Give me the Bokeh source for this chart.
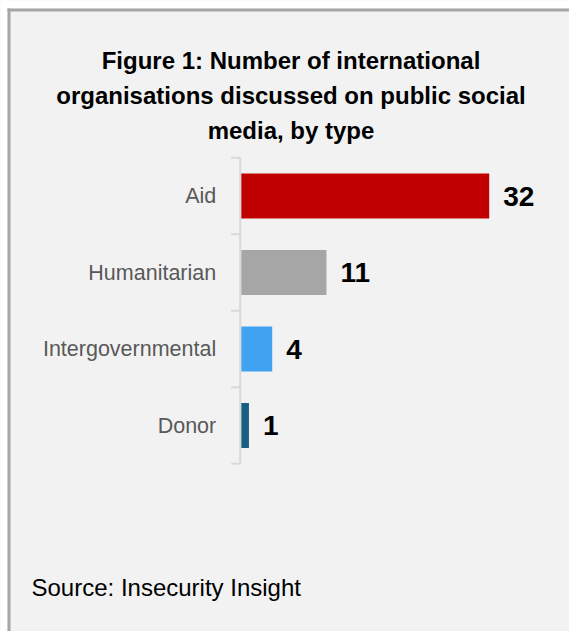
from bokeh.plotting import figure
from bokeh.models import ColumnDataSource, Range1d, Label, BoxAnnotation
from bokeh.core.properties import value
from bokeh.embed import file_html
from bokeh.resources import INLINE

categories = ["Aid", "Humanitarian", "Intergovernmental", "Donor"]
counts = [32, 11, 4, 1]
bar_colors = ["#c00000", "#a6a6a6", "#42a2f2", "#176083"]
title_lines = ["Figure 1: Number of international",
               "organisations discussed on public social",
               "media, by type"]
source_text = "Source: Insecurity Insight"

FONT = "Liberation Sans"
BG = "#f2f2f2"
AXIS_C = "#d9d9d9"
BORDER_C = "#a6a6a6"

# layout (pixels of the canvas)
W, H = 569, 631
ZERO_X = 240.7       # canvas x of value 0
PX = 7.75            # pixels per unit
CAT_TOP = 157.3      # canvas y of the top category boundary
CAT_STEP = 76.5      # pixels per category band

n = len(categories)
pos = list(range(n))
x_range = Range1d(-ZERO_X / PX, (W - ZERO_X) / PX)
y_top = -0.5 - CAT_TOP / CAT_STEP
y_bottom = y_top + H / CAT_STEP
y_range = Range1d(y_bottom, y_top)

p = figure(width=W, height=H, output_backend="svg", toolbar_location=None,
           x_range=x_range, y_range=y_range,
           x_axis_location=None, y_axis_location=None, min_border=0,
           background_fill_color=BG, border_fill_color=BG, outline_line_color=None)
p.grid.visible = False

src = ColumnDataSource(dict(y=pos, count=counts, color=bar_colors, cat=categories,
                            label=[str(c) for c in counts], zero=[0] * n))

# bars
p.hbar(y="y", left=0, right="count", height=0.59, color="color", line_color=None, source=src)

# category axis: line, boundary ticks, labels
bounds = [i - 0.5 for i in range(n + 1)]
ax_x = -1.0 / PX
p.segment(x0=[ax_x], y0=[bounds[0]], x1=[ax_x], y1=[bounds[-1]], line_color=AXIS_C, line_width=2)
p.segment(x0=[ax_x - 9.0 / PX] * len(bounds), y0=bounds, x1=[ax_x] * len(bounds), y1=bounds,
          line_color=AXIS_C, line_width=2)
p.text(x="zero", y="y", text="cat", x_offset=-25, text_align="right", text_baseline="middle",
       text_font=value(FONT), text_font_size="21.5px", text_color="#595959", source=src)

# value labels
p.text(x="count", y="y", text="label", x_offset=14, text_align="left", text_baseline="middle",
       text_font=value(FONT), text_font_style="bold", text_font_size="28px",
       text_color="#000000", source=src)

# title lines (screen units measured from canvas bottom-left)
for line, base in zip(title_lines, [60, 95, 130]):
    p.add_layout(Label(x=290.5, y=H - base, x_units="screen", y_units="screen",
                       text=line, text_align="center", text_baseline="alphabetic",
                       text_font=FONT, text_font_style="bold", text_font_size="24px",
                       text_color="#000000"))

p.add_layout(Label(x=31, y=H - 587, x_units="screen", y_units="screen",
                   text=source_text, text_align="left", text_baseline="alphabetic",
                   text_font=FONT, text_font_size="24px", text_color="#000000"))


def strip(left, right, top, bottom, color):
    # top/bottom given as canvas y from the top edge
    p.add_layout(BoxAnnotation(left=left, right=right, bottom=H - bottom, top=H - top,
                               left_units="screen", right_units="screen",
                               bottom_units="screen", top_units="screen",
                               fill_color=color, fill_alpha=1, line_color=None))


# white page margin outside the framed box, then the grey frame (top and left)
strip(0, W, 0, 8, "#ffffff")
strip(0, 7, 0, H, "#ffffff")
strip(7, W, 8, 11, BORDER_C)
strip(7, 10, 8, H, BORDER_C)

open("out.html", "w").write(file_html(p, INLINE))
